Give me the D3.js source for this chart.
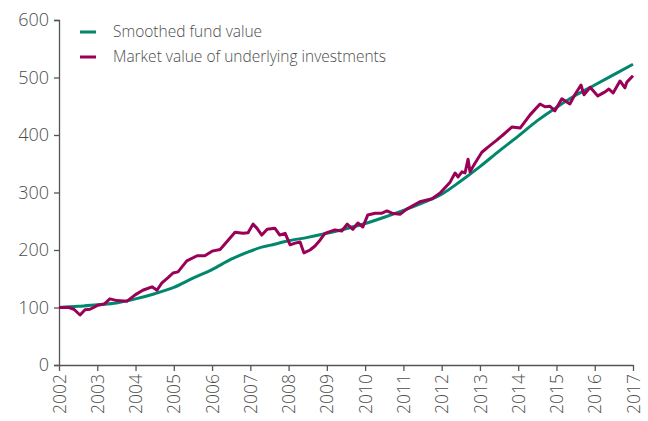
<!DOCTYPE html>
<html>
<head>
<meta charset="utf-8">
<script src="https://cdn.jsdelivr.net/npm/d3@7"></script>
<style>
  body { margin: 0; background: #fff; }
  text { font-family: "Open Sans", sans-serif; font-weight: 300; fill: #4d4d4d; }
</style>
</head>
<body>
<div id="chart"></div>
<script>
// series names
const seriesNames = ["Smoothed fund value", "Market value of underlying investments"];
const seriesColors = ["#00876d", "#9b0058"];

// smoothed fund value (decimal year, value)
const smoothYears = [2002, 2002.5, 2003, 2003.5, 2004, 2004.5, 2005, 2005.5, 2006, 2006.5, 2007, 2007.3,
    2007.5, 2008, 2008.5, 2009, 2009.5, 2010, 2010.5, 2011, 2011.5, 2012, 2012.5, 2013, 2013.5,
    2014, 2014.5, 2015, 2015.5, 2016, 2016.5, 2017];
const smoothValues = [100, 102, 105, 108, 115, 124, 135, 151, 166, 184, 198, 205,
    208, 216, 222, 229, 237, 246, 257, 269, 282, 297, 320, 345, 372,
    398, 425, 448, 469, 487, 505, 523];

// market value of underlying investments
const marketYears = [2002, 2002.26, 2002.39, 2002.55, 2002.68, 2002.81, 2003.02, 2003.18, 2003.33, 2003.52,
    2003.78, 2003.99, 2004.19, 2004.43, 2004.56, 2004.69, 2004.85, 2004.98, 2005.11, 2005.34,
    2005.61, 2005.81, 2006.0, 2006.21, 2006.42, 2006.6, 2006.81, 2006.94, 2007.07, 2007.17,
    2007.3, 2007.44, 2007.64, 2007.77, 2007.91, 2008.04, 2008.17, 2008.3, 2008.4, 2008.56,
    2008.69, 2008.82, 2008.95, 2009.21, 2009.39, 2009.53, 2009.68, 2009.81, 2009.94, 2010.07,
    2010.26, 2010.44, 2010.57, 2010.7, 2010.91, 2011.09, 2011.43, 2011.75, 2011.96, 2012.22,
    2012.35, 2012.43, 2012.53, 2012.61, 2012.69, 2012.74, 2012.87, 2013.05, 2013.21, 2013.44,
    2013.6, 2013.84, 2014.05, 2014.31, 2014.57, 2014.7, 2014.83, 2014.96, 2015.14, 2015.35,
    2015.48, 2015.64, 2015.72, 2015.88, 2016.08, 2016.27, 2016.37, 2016.48, 2016.66, 2016.79,
    2016.84, 2017];
const marketValues = [100, 100, 97, 87, 96, 97, 104, 106, 115, 112,
    111, 122, 130, 136, 130, 143, 152, 160, 162, 181,
    190, 190, 198, 201, 217, 231, 229, 230, 245, 238,
    226, 236, 238, 226, 229, 209, 212, 214, 195, 200,
    207, 217, 229, 235, 233, 245, 236, 247, 240, 261,
    264, 264, 268, 264, 262, 271, 284, 289, 299, 318,
    334, 327, 336, 334, 358, 336, 351, 370, 379, 391,
    400, 414, 412, 435, 454, 449, 450, 442, 463, 454,
    470, 487, 470, 483, 468, 475, 480, 473, 494, 482,
    492, 503];

// axis ticks
const yearTicks = d3.range(2002, 2018);
const valueTicks = [0, 100, 200, 300, 400, 500, 600];

// set the dimensions and margins of the graph
const margin = {top: 20, right: 15, bottom: 56, left: 59},
    width = 648 - margin.left - margin.right,
    height = 421 - margin.top - margin.bottom;

const svg = d3.select("#chart")
    .append("svg")
    .attr("width", width + margin.left + margin.right)
    .attr("height", height + margin.top + margin.bottom)
    .append("g")
    .attr("transform", `translate(${margin.left},${margin.top})`);

const x = d3.scaleLinear().domain([2002, 2017]).range([0, width]);
const y = d3.scaleLinear().domain([0, 600]).range([height, 0]);

// Y axis
const yAxis = svg.append("g")
    .call(d3.axisLeft(y).tickValues(valueTicks).tickSize(5).tickPadding(5));
yAxis.selectAll("text").style("font-size", "18px");

// X axis
const xAxis = svg.append("g")
    .attr("transform", `translate(0, ${height})`)
    .call(d3.axisBottom(x).tickValues(yearTicks).tickFormat(d3.format("d")).tickSize(6).tickSizeOuter(0));
xAxis.selectAll("text")
    .style("font-size", "17.5px")
    .attr("text-anchor", "end")
    .attr("transform", "rotate(-90)")
    .attr("x", -9)
    .attr("y", 0)
    .attr("dy", "0.35em");

svg.selectAll(".domain, .tick line")
    .attr("stroke", "#555")
    .attr("stroke-width", 1.3);

// lines
const line = d3.line()
    .x(d => x(d[0]))
    .y(d => y(d[1]));

const smoothData = d3.zip(smoothYears, smoothValues);
const marketData = d3.zip(marketYears, marketValues);

svg.append("path")
    .datum(smoothData)
    .attr("fill", "none")
    .attr("stroke", seriesColors[0])
    .attr("stroke-width", 3)
    .attr("d", d3.line().curve(d3.curveMonotoneX).x(d => x(d[0])).y(d => y(d[1])));

svg.append("path")
    .datum(marketData)
    .attr("fill", "none")
    .attr("stroke", seriesColors[1])
    .attr("stroke-width", 3)
    .attr("stroke-linejoin", "round")
    .attr("d", line);

// legend
const legend = svg.selectAll(".legend")
    .data(seriesNames)
    .join("g")
    .attr("transform", (d, i) => `translate(21, ${12 + i * 25})`);

legend.append("line")
    .attr("x1", 0).attr("x2", 16)
    .attr("stroke", (d, i) => seriesColors[i])
    .attr("stroke-width", 3);

legend.append("text")
    .attr("x", 33)
    .attr("dy", "0.35em")
    .style("font-size", "15.5px")
    .text(d => d);
</script>
</body>
</html>
